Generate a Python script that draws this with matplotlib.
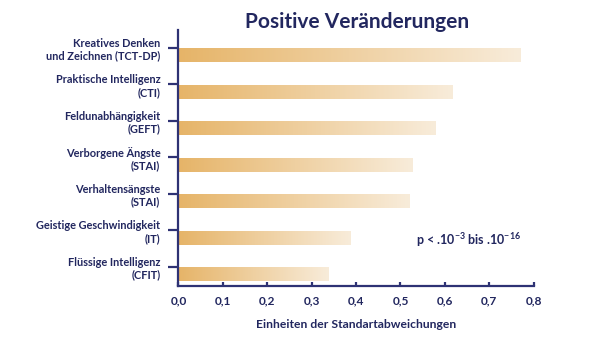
import matplotlib
matplotlib.use("Agg")
import matplotlib.pyplot as plt
import numpy as np
from matplotlib.colors import LinearSegmentedColormap

categories = [
    "Kreatives Denken\nund Zeichnen (TCT-DP)",
    "Praktische Intelligenz\n(CTI)",
    "Feldunabhängigkeit\n(GEFT)",
    "Verborgene Ängste\n(STAI)",
    "Verhaltensängste\n(STAI)",
    "Geistige Geschwindigkeit\n(IT)",
    "Flüssige Intelligenz\n(CFIT)",
]
values = [0.771, 0.618, 0.580, 0.529, 0.522, 0.389, 0.339]
xticks = [0.0, 0.1, 0.2, 0.3, 0.4, 0.5, 0.6, 0.7, 0.8]
xticklabels = ["0,0", "0,1", "0,2", "0,3", "0,4", "0,5", "0,6", "0,7", "0,8"]

navy = "#22275f"
spine_col = "#2e3274"
grad = LinearSegmentedColormap.from_list("bar", ["#e6b468", "#f8ecda"])

plt.rcParams["font.family"] = ["Lato", "DejaVu Sans"]
plt.rcParams["font.weight"] = "bold"
plt.rcParams["mathtext.fontset"] = "custom"
plt.rcParams["mathtext.rm"] = "Lato:bold"
plt.rcParams["mathtext.default"] = "regular"

W, H = 601, 337
fig = plt.figure(figsize=(W / 100, H / 100), dpi=100)
x0, x1 = 178.4, 533.7
y_top, y_bot = 30, 286
ax = fig.add_axes([x0 / W, (H - y_bot) / H, (x1 - x0) / W, (y_bot - y_top) / H])

bh = 0.365
for i, v in enumerate(values):
    g = np.linspace(0, 1, 256).reshape(1, -1)
    ax.imshow(g, cmap=grad, aspect="auto", interpolation="bicubic",
              extent=[0, v, i + bh / 2, i - bh / 2], zorder=2)

ax.set_xlim(0, 0.8)
ax.set_ylim(6.31, -0.704)

ax.set_yticks(np.arange(len(categories)) - 0.22)
ax.set_yticklabels(categories, fontsize=7.9, color=navy, fontweight="bold",
                   linespacing=1.2)
ax.set_xticks(xticks)
ax.set_xticklabels(xticklabels, fontsize=8.6, color=navy, fontweight="bold")

for s in ["top", "right"]:
    ax.spines[s].set_visible(False)
for s in ["left", "bottom"]:
    ax.spines[s].set_color(spine_col)
    ax.spines[s].set_linewidth(1.6)

ax.tick_params(axis="y", direction="out", length=7, width=1.6, color=spine_col, pad=6)
ax.tick_params(axis="x", direction="in", length=3, width=1.6, color=spine_col, pad=7)

ax.set_xlabel("Einheiten der Standartabweichungen", fontsize=8.7, color=navy,
              fontweight="bold", labelpad=9)

fig.text(357 / W, 1 - 22 / H, "Positive Veränderungen", fontsize=15,
         color=navy, fontweight="bold", ha="center", va="center")

ax.text(0.535, 5.05, r"p < .10$^{-3}$ bis .10$^{-16}$", fontsize=9,
        color=navy, fontweight="bold", ha="left", va="center")

fig.savefig("out.png", dpi=100)
